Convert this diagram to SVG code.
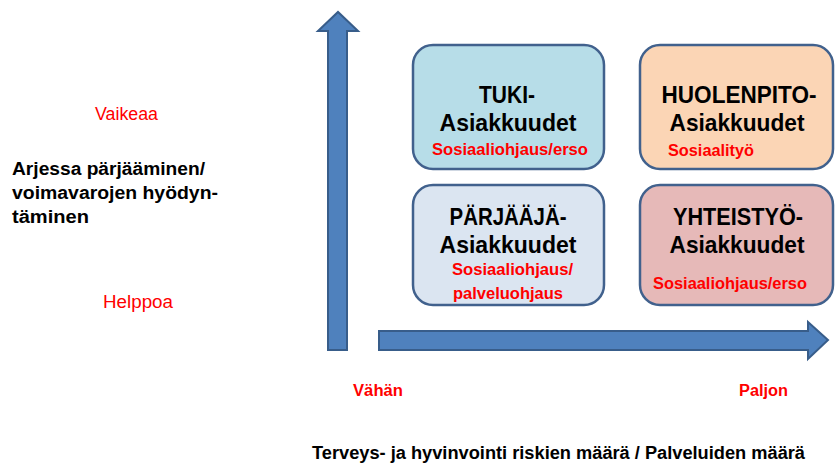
<svg xmlns="http://www.w3.org/2000/svg" width="835" height="466" viewBox="0 0 835 466">
<style>
.box{stroke:#41618d;stroke-width:2.5}
.arr{fill:#4f81bd;stroke:#385d8a;stroke-width:2}
.h{font-family:"Liberation Sans",Arial,sans-serif;font-weight:bold;font-size:24px;fill:#000;text-anchor:middle}
.r{font-family:"Liberation Sans",Arial,sans-serif;font-weight:bold;font-size:16px;fill:#ff0000}
.lb{font-family:"Liberation Sans",Arial,sans-serif;font-weight:bold;font-size:18px;fill:#000}
.lr{font-family:"Liberation Sans",Arial,sans-serif;font-size:17.5px;fill:#ff0000}
</style>
<rect width="835" height="466" fill="#fff"/>
<g id="connectors">
<path class="arr" d="M328,350 L328,31 L318,31 L338,12 L358,31 L347,31 L347,350 Z"/>
<path class="arr" d="M379,331 L808,331 L808,322 L828,340 L808,359 L808,350 L379,350 Z"/>
</g>
<g id="tuki">
<rect class="box" x="413" y="45" width="191" height="124" rx="20" fill="#b7dde8"/>
<text class="h" x="507" y="103" textLength="56" lengthAdjust="spacingAndGlyphs">TUKI-</text>
<text class="h" x="508" y="131" textLength="137" lengthAdjust="spacingAndGlyphs">Asiakkuudet</text>
<text class="r" x="432" y="155" textLength="156" lengthAdjust="spacingAndGlyphs">Sosiaaliohjaus/erso</text>
</g>
<g id="parjaaja">
<rect class="box" x="413" y="185" width="191" height="120" rx="20" fill="#dbe5f1"/>
<text class="h" x="508" y="225" textLength="117" lengthAdjust="spacingAndGlyphs">PÄRJÄÄJÄ-</text>
<text class="h" x="508" y="253" textLength="137" lengthAdjust="spacingAndGlyphs">Asiakkuudet</text>
<text class="r" x="452" y="275" textLength="121" lengthAdjust="spacingAndGlyphs">Sosiaaliohjaus/</text>
<text class="r" x="453" y="299" textLength="110" lengthAdjust="spacingAndGlyphs">palveluohjaus</text>
</g>
<g id="huolenpito">
<rect class="box" x="640" y="45" width="193" height="124" rx="20" fill="#fbd5b5"/>
<text class="h" x="739" y="103" textLength="155" lengthAdjust="spacingAndGlyphs">HUOLENPITO-</text>
<text class="h" x="737" y="131" textLength="135" lengthAdjust="spacingAndGlyphs">Asiakkuudet</text>
<text class="r" x="668" y="156" textLength="86" lengthAdjust="spacingAndGlyphs">Sosiaalityö</text>
</g>
<g id="yhteistyo">
<rect class="box" x="640" y="185" width="193" height="120" rx="20" fill="#e6b9b8"/>
<text class="h" x="738" y="225" textLength="130" lengthAdjust="spacingAndGlyphs">YHTEISTYÖ-</text>
<text class="h" x="737" y="253" textLength="135" lengthAdjust="spacingAndGlyphs">Asiakkuudet</text>
<text class="r" x="653" y="289" textLength="154" lengthAdjust="spacingAndGlyphs">Sosiaaliohjaus/erso</text>
</g>
<g id="y-axis-labels">
<text class="lr" x="95" y="120" textLength="63" lengthAdjust="spacingAndGlyphs">Vaikeaa</text>
<text class="lb" x="12" y="175" textLength="193" lengthAdjust="spacingAndGlyphs">Arjessa pärjääminen/</text>
<text class="lb" x="12" y="199" textLength="206" lengthAdjust="spacingAndGlyphs">voimavarojen hyödyn-</text>
<text class="lb" x="12" y="223" textLength="77" lengthAdjust="spacingAndGlyphs">täminen</text>
<text class="lr" x="103" y="308" textLength="70" lengthAdjust="spacingAndGlyphs">Helppoa</text>
</g>
<g id="x-axis-labels">
<text class="r" x="353" y="396" textLength="50" lengthAdjust="spacingAndGlyphs">Vähän</text>
<text class="r" x="739" y="396" textLength="49" lengthAdjust="spacingAndGlyphs">Paljon</text>
<text class="lb" x="312" y="459" textLength="493" lengthAdjust="spacingAndGlyphs">Terveys- ja hyvinvointi riskien määrä / Palveluiden määrä</text>
</g>
</svg>
